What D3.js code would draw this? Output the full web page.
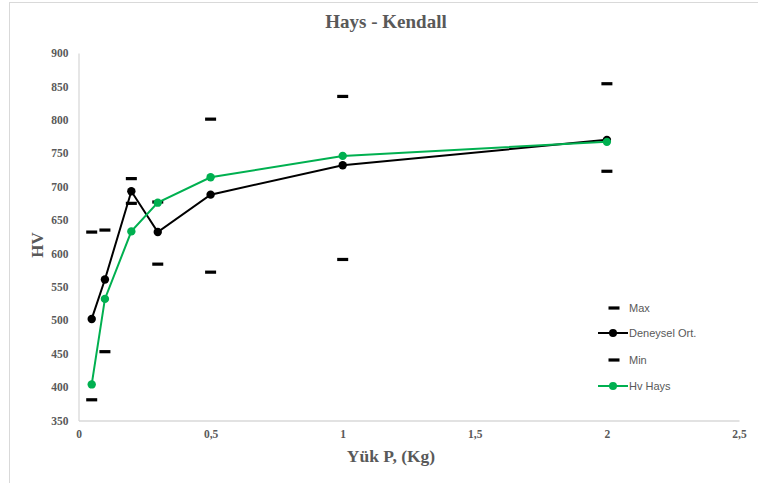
<!DOCTYPE html>
<html><head><meta charset="utf-8">
<script src="https://cdn.jsdelivr.net/npm/d3@7"></script>
<style>body{margin:0;background:#fff}svg{display:block}</style>
</head><body>
<svg id="c" width="758" height="483"></svg>
<script>
const loads = [0.05, 0.1, 0.2, 0.3, 0.5, 1, 2];
const maxVals = [632, 635, 712, 677, 801, 835, 854];
const deneysel = [502, 561, 693, 632, 688, 732, 770];
const minVals = [381, 453, 675, 584, 572, 591, 723];
const hvHays = [404, 532, 633, 676, 714, 746, 767];
const yTicks = [350,400,450,500,550,600,650,700,750,800,850,900];
const xTicks = [0,0.5,1,1.5,2,2.5];
const xTickLabels = ["0","0,5","1","1,5","2","2,5"];

const svg = d3.select("#c");
const x = d3.scaleLinear().domain([0,2.5]).range([78.5,739]);
const y = d3.scaleLinear().domain([350,900]).range([420.5,53]);
const gray = "#595959";
const serif = "'Liberation Serif','Times New Roman',serif";
const sans = "'Liberation Sans','Open Sans',sans-serif";

// outer frame
svg.append("rect").attr("x",9.5).attr("y",2.5).attr("width",760).attr("height",490)
  .attr("fill","none").attr("stroke","#d9d9d9").attr("stroke-width",1);

// title
svg.append("text").attr("x",386).attr("y",28).attr("text-anchor","middle")
  .attr("font-family",serif).attr("font-weight","bold").attr("font-size",19).attr("fill",gray)
  .text("Hays - Kendall");

// axes
const yAxis = d3.axisLeft(y).tickValues(yTicks).tickSize(0).tickPadding(10).tickFormat(d3.format("d"));
const gy = svg.append("g").attr("transform","translate(78.5,0)").call(yAxis);
const xAxis = d3.axisBottom(x).tickValues(xTicks).tickSize(0).tickPadding(9).tickFormat((d,i)=>xTickLabels[i]);
const gx = svg.append("g").attr("transform","translate(0,420.5)").call(xAxis);
[gx,gy].forEach(g=>{
  g.select(".domain").attr("stroke","#d9d9d9").attr("stroke-width",1.3);
  g.selectAll("text").attr("font-family",serif).attr("font-weight","bold").attr("font-size",11.5).attr("fill",gray);
});

// axis titles
svg.append("text").attr("transform","translate(43,245) rotate(-90)").attr("text-anchor","middle")
  .attr("font-family",serif).attr("font-weight","bold").attr("font-size",17).attr("fill",gray).text("HV");
svg.append("text").attr("x",391).attr("y",462).attr("text-anchor","middle")
  .attr("font-family",serif).attr("font-weight","bold").attr("font-size",17.5).attr("fill",gray).text("Yük P, (Kg)");

const line = d3.line().x(d=>x(d[0])).y(d=>y(d[1]));
function drawLine(vals,color){
  const pts = loads.map((l,i)=>[l,vals[i]]);
  svg.append("path").datum(pts).attr("d",line).attr("fill","none").attr("stroke",color).attr("stroke-width",2);
  svg.selectAll(null).data(pts).enter().append("circle")
    .attr("cx",d=>x(d[0])).attr("cy",d=>y(d[1])).attr("r",4.2).attr("fill",color);
}
function drawDash(vals){
  svg.selectAll(null).data(loads.map((l,i)=>[l,vals[i]])).enter().append("rect")
    .attr("x",d=>x(d[0])-5.5).attr("y",d=>y(d[1])-1.6).attr("width",11).attr("height",3.2).attr("fill","#000");
}
drawDash(maxVals);
drawLine(deneysel,"#000000");
drawDash(minVals);
drawLine(hvHays,"#00b050");

// legend
const lg = svg.append("g");
const items = [
  {name:"Max",type:"dash",color:"#000",y:308},
  {name:"Deneysel Ort.",type:"line",color:"#000",y:333},
  {name:"Min",type:"dash",color:"#000",y:360},
  {name:"Hv Hays",type:"line",color:"#00b050",y:386}
];
items.forEach(it=>{
  if(it.type==="dash"){
    lg.append("rect").attr("x",608.5).attr("y",it.y-1.6).attr("width",11).attr("height",3.2).attr("fill",it.color);
  } else {
    lg.append("line").attr("x1",598).attr("x2",628).attr("y1",it.y).attr("y2",it.y).attr("stroke",it.color).attr("stroke-width",2);
    lg.append("circle").attr("cx",613).attr("cy",it.y).attr("r",4).attr("fill",it.color);
  }
  lg.append("text").attr("x",629).attr("y",it.y+4).attr("font-family",sans).attr("font-size",11).attr("fill",gray).text(it.name);
});
</script>
</body></html>
